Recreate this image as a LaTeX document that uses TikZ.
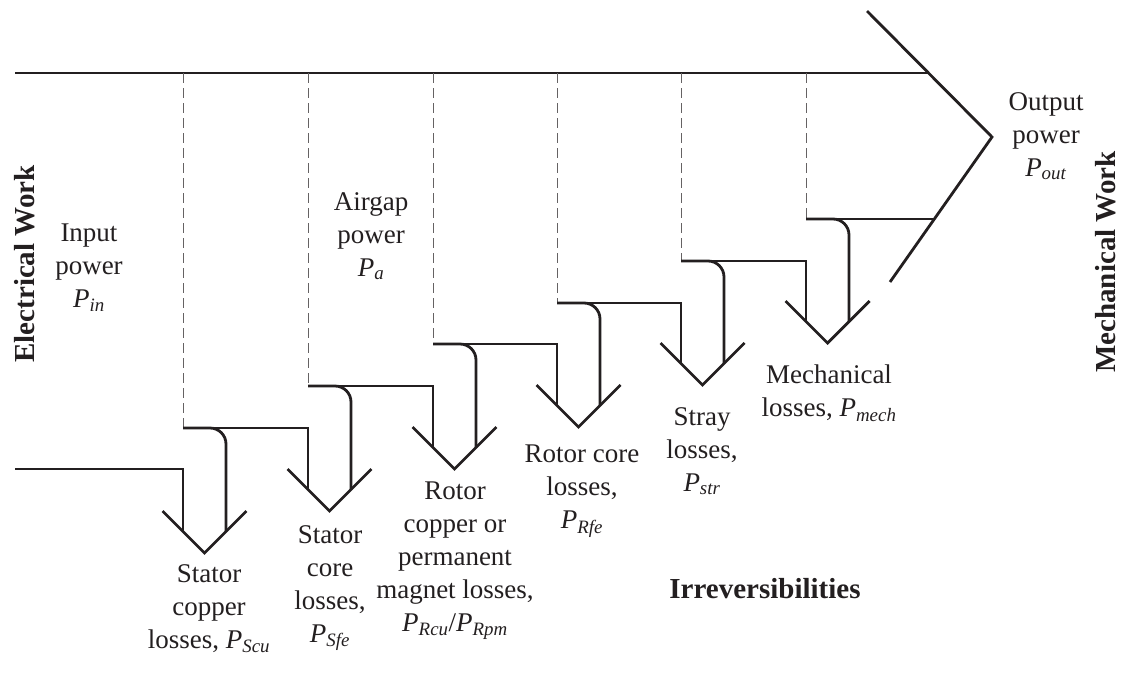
\documentclass[tikz,border=0pt]{standalone}
\usepackage{fontspec}
\setmainfont{Liberation Serif}
\definecolor{ink}{HTML}{231F20}
\newcommand{\pw}[1]{\textit{P}\textsubscript{\textit{#1}}}
\tikzset{
	flow/.style={line width=2.8pt, draw=ink},
	split/.style={line width=1pt, draw=ink!70, dash pattern=on 10pt off 5pt},
	lbl/.style={align=center, anchor=north, inner sep=0pt, text=ink, font=\fontsize{27}{33}\selectfont},
	side/.style={anchor=base, inner sep=0pt, text=ink, font=\bfseries\fontsize{29}{33}\selectfont},
}
\begin{document}
\begin{tikzpicture}[x=1pt, y=-1pt]
	\useasboundingbox (0,0) rectangle (1126,675);
% Hauptstrom:
	\draw [flow] (15,73) -- (929,73);
	\draw [flow] (867,11) -- (992,137) -- (890,282);
	\draw [flow] (15,469) -- (183,469) -- (183,531.5);
% Trennlinien
	\draw [split] (183,73) -- (183,428);
	\draw [split] (308,73) -- (308,386);
	\draw [split] (433,73) -- (433,344);
	\draw [split] (557,73) -- (557,303);
	\draw [split] (681,73) -- (681,261);
	\draw [split] (806,73) -- (806,219);
% Stufen
	\draw [flow] (183,428) -- (308,428) -- (308,489.5);
	\draw [flow] (308,386) -- (433,386) -- (433,447.5);
	\draw [flow] (433,344) -- (557,344) -- (557,405.5);
	\draw [flow] (557,303) -- (681,303) -- (681,363.5);
	\draw [flow] (681,261) -- (806,261) -- (806,321.5);
	\draw [flow] (806,219) -- (934,219);
% Abzweige
	\draw [flow, rounded corners=16pt] (183,428) -| (226,531.5);
	\draw [flow, rounded corners=16pt] (308,386) -| (351,489.5);
	\draw [flow, rounded corners=16pt] (433,344) -| (476,447.5);
	\draw [flow, rounded corners=16pt] (557,303) -| (600,405.5);
	\draw [flow, rounded corners=16pt] (681,261) -| (724,363.5);
	\draw [flow, rounded corners=16pt] (806,219) -| (849,321.5);
% Pfeilspitzen
	\draw [flow] (162.5,511) --++ (42,42) --++ (42,-42);
	\draw [flow] (287.5,469) --++ (42,42) --++ (42,-42);
	\draw [flow] (412.5,427) --++ (42,42) --++ (42,-42);
	\draw [flow] (536.5,385) --++ (42,42) --++ (42,-42);
	\draw [flow] (660.5,343) --++ (42,42) --++ (42,-42);
	\draw [flow] (785.5,301) --++ (42,42) --++ (42,-42);
% Beschriftung
	\node [lbl] (in) at (89,224) {Input\\power\\\pw{in}};
	\node [lbl] (air) at (371,192) {Airgap\\power\\\pw{a}};
	\node [lbl] (out) at (1046,92) {Output\\power\\\pw{out}};
	\node [lbl] (scu) at (209,564) {Stator\\copper\\losses, \pw{Scu}};
	\node [lbl] (sfe) at (330,525) {Stator\\core\\losses,\\\pw{Sfe}};
	\node [lbl] (rcu) at (455,482) {Rotor\\copper or\\permanent\\magnet losses,\\\pw{Rcu}/\pw{Rpm}};
	\node [lbl] (rfe) at (582,445) {Rotor core\\losses,\\\pw{Rfe}};
	\node [lbl] (str) at (702,407) {Stray\\losses,\\\pw{str}};
	\node [lbl] (mech) at (829,365) {Mechanical\\losses, \pw{mech}};
	\node [side] (irr) at (765,598) {Irreversibilities};
	\node [side, rotate=90] (elec) at (34,264) {Electrical Work};
	\node [side, rotate=90] (mechw) at (1115,262) {Mechanical Work};
\end{tikzpicture}
\end{document}
